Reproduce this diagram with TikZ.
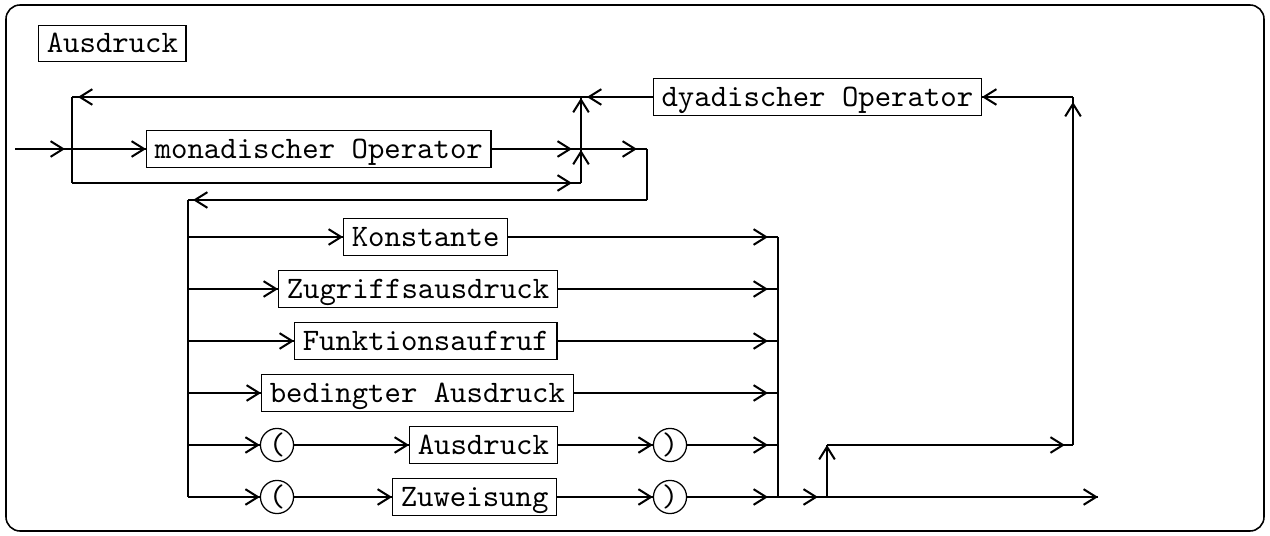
\documentclass[tikz,border=0pt]{standalone}
\usetikzlibrary{arrows.meta,calc}
\newcommand\flowseg[3]{\draw[ln] (#1) -- (#2); \draw[ln,->] (#1) -- ($(#2)!#3!(#1)$);}
\begin{document}
\begin{tikzpicture}[x=0.32pt,y=-0.32pt,
  ln/.style={line width=0.65pt},
  box/.style={draw, line width=0.4pt, font=\ttfamily, inner xsep=2.6pt, inner ysep=0pt,
    minimum height=11.7pt, text height=7.5pt, text depth=1.7pt},
  term/.style={draw, circle, line width=0.4pt, font=\ttfamily, inner sep=0pt, minimum size=10.6pt},
  >={Straight Barb[length=4pt,width=5pt]}]
\useasboundingbox (0,0) rectangle (1270,536);
\draw[line width=0.5pt, rounded corners=4.5pt] (6,5) rectangle (1264,531);

\node[box,anchor=west] (title) at (38,43.5) {Ausdruck};
\node[box,anchor=west] (mon) at (146,149) {monadischer Operator};
\node[box,anchor=east] (dya) at (982,97) {dyadischer Operator};
\node[box,anchor=west] (kon) at (343,237) {Konstante};
\node[box,anchor=west] (zug) at (278,289) {Zugriffsausdruck};
\node[box,anchor=west] (fun) at (294,341) {Funktionsaufruf};
\node[box,anchor=west] (bed) at (261,393) {bedingter Ausdruck};
\node[box,anchor=west] (aus) at (409,445) {Ausdruck};
\node[box,anchor=west] (zuw) at (392,497) {Zuweisung};
\node[term] (lp1) at (277,445) {(};
\node[term] (rp1) at (670,445) {)};
\node[term] (lp2) at (277,497) {(};
\node[term] (rp2) at (670,497) {)};

\coordinate (in) at (15,149);
\coordinate (jL) at (72,149);
\coordinate (jLt) at (72,97);
\coordinate (jLb) at (72,183);
\coordinate (jR) at (581,149);
\coordinate (jRt) at (581,97);
\coordinate (jRb) at (581,183);
\coordinate (jO) at (647,149);
\coordinate (jOb) at (647,200);
\coordinate (kT) at (188,200);
\coordinate (L1) at (188,237);
\coordinate (L2) at (188,289);
\coordinate (L3) at (188,341);
\coordinate (L4) at (188,393);
\coordinate (L5) at (188,445);
\coordinate (L6) at (188,497);
\coordinate (R1) at (778,237);
\coordinate (R2) at (778,289);
\coordinate (R3) at (778,341);
\coordinate (R4) at (778,393);
\coordinate (R5) at (778,445);
\coordinate (R6) at (778,497);
\coordinate (e1) at (827,497);
\coordinate (e1t) at (827,445);
\coordinate (out) at (1098,497);
\coordinate (rt) at (1073,445);
\coordinate (rtt) at (1073,97);

% upper part
\flowseg{in}{jL}{2.24pt}
\flowseg{jL}{mon.west}{0pt}
\flowseg{mon.east}{jR}{2.9pt}
\flowseg{jR}{jO}{3.2pt}
\draw[ln] (jO) -- (jOb);
\flowseg{jOb}{kT}{1.6pt}
\flowseg{jLb}{jRb}{2.9pt}
\flowseg{jRb}{jR}{0.3pt}
\flowseg{jR}{jRt}{0.3pt}
\draw[ln] (dya.west) -- (jRt);
\draw[ln,->] (dya.west) -- ($(jRt)!1.9pt!(dya.west)$);
\flowseg{jRt}{jLt}{1.9pt}
\draw[ln] (jLt) -- (jLb);

% lower part
\draw[ln] (kT) -- (L6);
\draw[ln] (R1) -- (R6);
\flowseg{L1}{kon.west}{0pt}
\flowseg{kon.east}{R1}{3.2pt}
\flowseg{L2}{zug.west}{0pt}
\flowseg{zug.east}{R2}{3.2pt}
\flowseg{L3}{fun.west}{0pt}
\flowseg{fun.east}{R3}{3.2pt}
\flowseg{L4}{bed.west}{0pt}
\flowseg{bed.east}{R4}{3.2pt}
\flowseg{L5}{lp1.west}{0pt}
\flowseg{lp1.east}{aus.west}{0pt}
\flowseg{aus.east}{rp1.west}{0pt}
\flowseg{rp1.east}{R5}{3.2pt}
\flowseg{L6}{lp2.west}{0pt}
\flowseg{lp2.east}{zuw.west}{0pt}
\flowseg{zuw.east}{rp2.west}{0pt}
\flowseg{rp2.east}{R6}{3.2pt}

% exit and loop back
\flowseg{R6}{e1}{2.9pt}
\flowseg{e1}{out}{0pt}
\flowseg{e1}{e1t}{0pt}
\flowseg{e1t}{rt}{2.6pt}
\flowseg{rt}{rtt}{1.6pt}
\flowseg{rtt}{dya.east}{0pt}
\end{tikzpicture}
\end{document}
